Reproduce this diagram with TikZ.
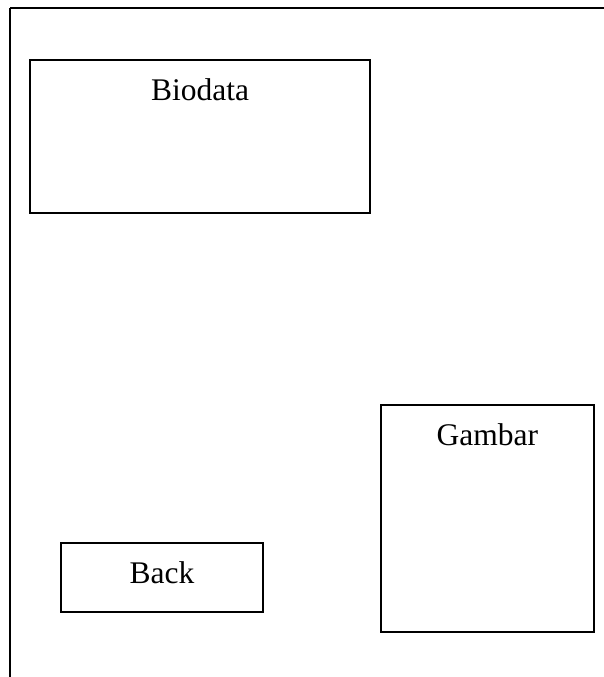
\documentclass[tikz,border=0pt]{standalone}
\usepackage{fontspec}
\setmainfont{Liberation Serif}
\usepackage{tikz}

\begin{document}
\begin{tikzpicture}[x=1pt, y=-1pt,
	kotak/.style={draw, line width=1.8pt, inner sep=0pt},
	judul/.style={anchor=base, inner sep=0pt, font=\fontsize{31.5}{38}\selectfont}]
	\useasboundingbox (0,0) rectangle (604,677);
	% bingkai halaman
	\coordinate (atas kanan) at (604,8);
	\coordinate (atas kiri) at (10,8);
	\coordinate (bawah kiri) at (10,677);
	\draw[line width=2.4pt] (atas kanan) -- (atas kiri);
	\draw[line width=1.9pt] (atas kiri) -- (bawah kiri);
	% kotak-kotak
	\node (biodata) at (200,136.3) [kotak,
		minimum width=340pt, minimum height=152.7pt] {};
	\node (biodata teks) at ([yshift=-41.7pt]biodata.north) [judul] {Biodata};
	\node (gambar) at (487.3,518.7) [kotak,
		minimum width=213.3pt, minimum height=227.3pt] {};
	\node (gambar teks) at ([yshift=-41.7pt]gambar.north) [judul] {Gambar};
	\node (back) at (162,577.5) [kotak,
		minimum width=202.6pt, minimum height=68.4pt] {};
	\node (back teks) at ([yshift=-5.8pt]back.center) [judul] {Back};
\end{tikzpicture}
\end{document}
